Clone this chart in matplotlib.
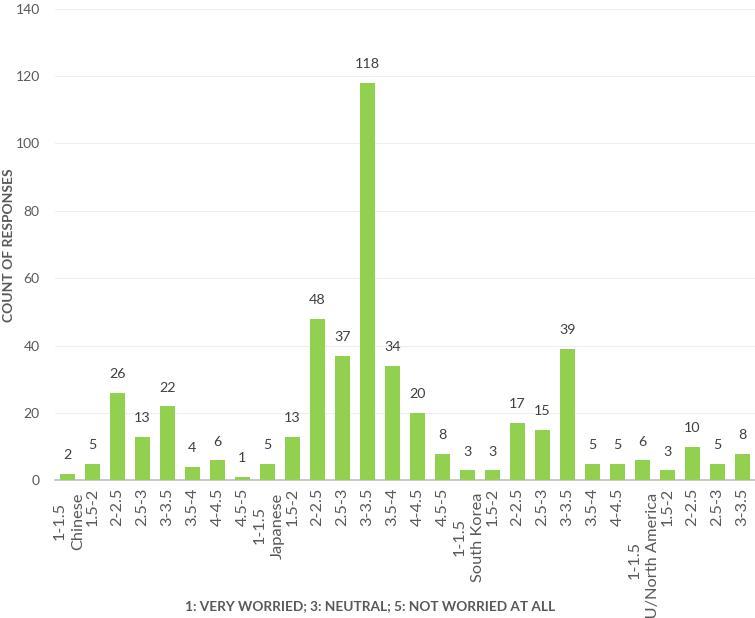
import matplotlib
matplotlib.use("Agg")
import matplotlib.pyplot as plt

groups = ["Chinese", "Japanese", "South Korea", "EU/North America"]
bins_chinese = ["1-1.5", "1.5-2", "2-2.5", "2.5-3", "3-3.5", "3.5-4", "4-4.5", "4.5-5"]
vals_chinese = [2, 5, 26, 13, 22, 4, 6, 1]
bins_japanese = ["1-1.5", "1.5-2", "2-2.5", "2.5-3", "3-3.5", "3.5-4", "4-4.5", "4.5-5"]
vals_japanese = [5, 13, 48, 37, 118, 34, 20, 8]
bins_korea = ["1-1.5", "1.5-2", "2-2.5", "2.5-3", "3-3.5", "3.5-4", "4-4.5"]
vals_korea = [3, 3, 17, 15, 39, 5, 5]
bins_eu = ["1-1.5", "1.5-2", "2-2.5", "2.5-3", "3-3.5"]
vals_eu = [6, 3, 10, 5, 8]

group_bins = [bins_chinese, bins_japanese, bins_korea, bins_eu]
group_vals = [vals_chinese, vals_japanese, vals_korea, vals_eu]

FONT = "Lato"
plt.rcParams["font.family"] = [FONT, "DejaVu Sans"]

fig = plt.figure(figsize=(7.55, 6.18), dpi=100)
ax = fig.add_axes([0.0728, 0.2225, 0.927, 0.7635])

labels, values, starts = [], [], []
for g, bins, vals in zip(groups, group_bins, group_vals):
    starts.append(len(labels))
    labels.extend(bins)
    values.extend(vals)
x = list(range(len(values)))

bars = ax.bar(x, values, width=0.58, color="#92d050", zorder=3)
for xi, v in zip(x, values):
    ax.annotate(str(v), xy=(xi, v), xytext=(0, 13.5), textcoords="offset points",
                ha="center", va="center", fontsize=10.3, color="#404040")

ax.set_xlim(-0.5, len(values) - 0.5)
ax.set_ylim(0, 140)
ax.set_yticks(range(0, 141, 20))
ax.tick_params(axis="y", length=0, labelsize=10, labelcolor="#595959", pad=11)
ax.grid(axis="y", color="#eeeeee", linewidth=0.8, zorder=0)
for s in ["top", "right", "left"]:
    ax.spines[s].set_visible(False)
ax.spines["bottom"].set_color("#bfbfbf")
ax.spines["bottom"].set_linewidth(1.2)

XFS = 11.8
ticklabels = ["" if i in starts else lab for i, lab in enumerate(labels)]
ax.set_xticks(x)
ax.set_xticklabels(ticklabels, rotation=90, fontsize=XFS, color="#595959")
ax.tick_params(axis="x", length=0, pad=5)

# group names and first-bin labels
for g, s in zip(groups, starts):
    gt = ax.annotate(g, xy=(s + 1, 0), xycoords="data", xytext=(-10.5, -8.5),
                     textcoords="offset points", rotation=90, ha="center", va="top",
                     fontsize=XFS, color="#595959")
    ax.annotate(labels[s], xy=(0.5, 0.5), xycoords=gt, xytext=(-13, 0),
                textcoords="offset points", rotation=90, ha="center", va="center",
                fontsize=XFS, color="#595959")

fig.text(0.0125, 0.603, "COUNT OF RESPONSES", rotation=90, ha="center", va="center",
         fontsize=10, fontweight="bold", color="#595959")
fig.text(0.49, 0.019, "1: VERY WORRIED; 3: NEUTRAL; 5: NOT WORRIED AT ALL",
         ha="center", va="center", fontsize=9.8, fontweight="bold", color="#595959")

fig.savefig("out.png", dpi=100)
